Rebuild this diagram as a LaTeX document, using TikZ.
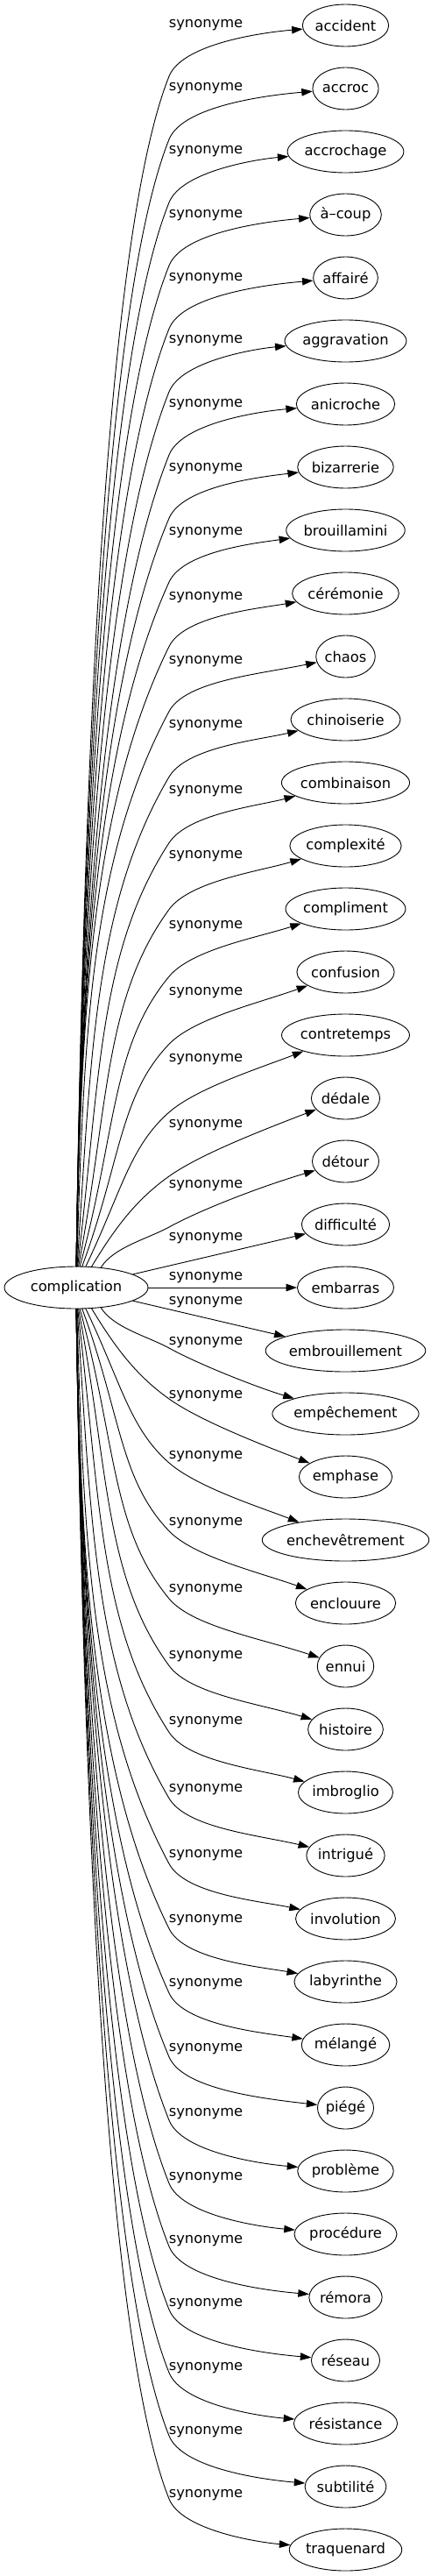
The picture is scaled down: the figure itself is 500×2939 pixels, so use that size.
\documentclass[tikz,border=0pt]{standalone}
\usepackage{fontspec}
\setmainfont{DejaVu Sans}
\usetikzlibrary{arrows.meta,calc,shapes.geometric}
\newlength\synw
\newcommand\synfont{\fontsize{16.3pt}{19pt}\selectfont}
\tikzset{
  tnode/.style={draw, ellipse, inner sep=0pt, minimum height=48pt, font=\synfont},
  lab/.style={font=\synfont, inner sep=0pt},
  synarrow/.style={draw, -{Triangle[length=12.5pt,width=8.5pt]}},
}
\newcommand\syn[4]{%
  \settowidth\synw{\synfont #3}%
  \pgfmathsetmacro\zzyt{29+72*#1}%
  \pgfmathsetmacro\zzew{1.257*\synw+29.6}%
  \node[tnode, minimum width=\zzew pt] (#2) at (394.5,\zzyt) {#3};
  \node[lab] (l#2) at (235,#4) {synonyme};
  \pgfmathsetmacro\zzdd{\zzyt-1469}%
  \pgfmathsetmacro\zzDD{abs(\zzdd)}%
  \ifdim\zzDD pt<100pt
    \draw[synarrow] (comp) -- (#2);
  \else
    \pgfmathsetmacro\zzs{\zzdd<0 ? -1 : 1}%
    \pgfmathsetmacro\zzxs{87+28*exp(-(\zzDD-144)/150)}%
    \pgfmathsetmacro\zzys{1469+\zzs*24*sqrt(1-((\zzxs-87)/82)^2)}%
    \pgfmathsetmacro\zzv{max(0,min(1,(1000-\zzDD)/712))}%
    \pgfmathsetmacro\zzD{\zzDD>250 ? 58+30*\zzv*\zzv : (\zzDD>180 ? 89 : 75)}%
    \pgfmathsetmacro\zzpy{\zzyt-\zzs*\zzD}%
    \pgfmathsetmacro\zzwa{max(0,min(1,(\zzDD-144)/856))}%
    \pgfmathsetmacro\zzg{0.55+1.95*\zzwa}%
    \pgfmathsetmacro\zzn{sqrt(1+\zzg*\zzg)}%
    \pgfmathsetmacro\zztx{1/\zzn}%
    \pgfmathsetmacro\zzty{\zzs*\zzg/\zzn}%
    \pgfmathsetmacro\zzH{abs(\zzys-\zzpy)}%
    \pgfmathsetmacro\zzPS{veclen(193-\zzxs,\zzH)}%
    \pgfmathsetmacro\zzw{max(0,min(1,(\zzDD-216)/600))}%
    \pgfmathsetmacro\zza{0.006+0.294*(1-\zzw)*(1-\zzw)}%
    \pgfmathsetmacro\zzb{0.5-0.1*\zzw}%
    \pgfmathsetmacro\zzAx{\zzxs+\zza*\zzH}%
    \pgfmathsetmacro\zzAy{\zzys+\zzs*\zzb*\zzH}%
    \pgfmathsetmacro\zzlam{min(200,0.3*\zzPS)}%
    \pgfmathsetmacro\zzBx{193-\zzlam*\zztx}%
    \pgfmathsetmacro\zzBy{\zzpy-\zzlam*\zzty}%
    \pgfmathsetmacro\zzTw{394.5-\zzew/2}%
    \pgfmathsetmacro\zzTP{veclen(\zzTw-193,\zzyt-\zzpy)}%
    \pgfmathsetmacro\zzmu{0.2*\zzTP}%
    \pgfmathsetmacro\zzCx{193+\zzmu*\zztx}%
    \pgfmathsetmacro\zzCy{\zzpy+\zzmu*\zzty}%
    \pgfmathsetmacro\zzc{0.45*(\zzTw-193)}%
    \pgfmathsetmacro\zzm{\zzDD<180 ? 0.35 : 0.45-0.35*max(0,min(1,(\zzDD-300)/700))}%
    \pgfmathsetmacro\zzEx{\zzTw-\zzc}%
    \pgfmathsetmacro\zzEy{\zzyt-\zzs*\zzm*\zzc}%
    \draw[synarrow] (\zzxs,\zzys) .. controls (\zzAx,\zzAy) and (\zzBx,\zzBy) .. (193,\zzpy)
       .. controls (\zzCx,\zzCy) and (\zzEx,\zzEy) .. (#2);
  \fi
}
\begin{document}
\begin{tikzpicture}[x=1pt,y=-1pt,line width=0.9pt]
\useasboundingbox (0,0) rectangle (500,2939);
\node[tnode, minimum width=164pt] (comp) at (87,1469) {complication};
\syn{0}{accident}{accident}{29}
\syn{1}{accroc}{accroc}{101}
\syn{2}{accrochage}{accrochage}{173}
\syn{3}{acoup}{à–coup}{246}
\syn{4}{affaire}{affairé}{318}
\syn{5}{aggravation}{aggravation}{389}
\syn{6}{anicroche}{anicroche}{462}
\syn{7}{bizarrerie}{bizarrerie}{535}
\syn{8}{brouillamini}{brouillamini}{608}
\syn{9}{ceremonie}{cérémonie}{682}
\syn{10}{chaos}{chaos}{755}
\syn{11}{chinoiserie}{chinoiserie}{828}
\syn{12}{combinaison}{combinaison}{903}
\syn{13}{complexite}{complexité}{977}
\syn{14}{compliment}{compliment}{1057}
\syn{15}{confusion}{confusion}{1133}
\syn{16}{contretemps}{contretemps}{1209}
\syn{17}{dedale}{dédale}{1284}
\syn{18}{detour}{détour}{1353}
\syn{19}{difficulte}{difficulté}{1413}
\syn{20}{embarras}{embarras}{1458}
\syn{21}{embrouillement}{embrouillement}{1486}
\syn{22}{empechement}{empêchement}{1532}
\syn{23}{emphase}{emphase}{1593}
\syn{24}{enchevetrement}{enchevêtrement}{1662}
\syn{25}{enclouure}{enclouure}{1738}
\syn{26}{ennui}{ennui}{1814}
\syn{27}{histoire}{histoire}{1890}
\syn{28}{imbroglio}{imbroglio}{1965}
\syn{29}{intrigue}{intrigué}{2042}
\syn{30}{involution}{involution}{2117}
\syn{31}{labyrinthe}{labyrinthe}{2191}
\syn{32}{melange}{mélangé}{2264}
\syn{33}{piege}{piégé}{2338}
\syn{34}{probleme}{problème}{2412}
\syn{35}{procedure}{procédure}{2485}
\syn{36}{remora}{rémora}{2557}
\syn{37}{reseau}{réseau}{2629}
\syn{38}{resistance}{résistance}{2702}
\syn{39}{subtilite}{subtilité}{2775}
\syn{40}{traquenard}{traquenard}{2847}
\end{tikzpicture}
\end{document}
